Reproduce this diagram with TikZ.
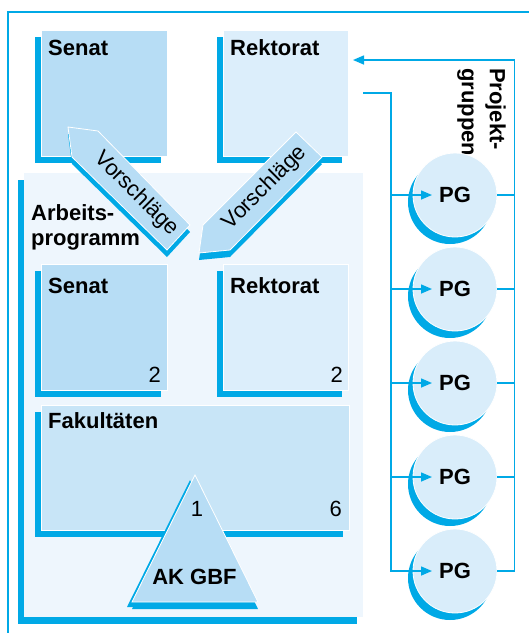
\documentclass[tikz,border=0pt]{standalone}
\usepackage{fontspec}
\setmainfont{Liberation Sans}
\usepackage{tikz}
\usetikzlibrary{positioning,arrows.meta,shadows}

\definecolor{pgcyan}{HTML}{00A9E6}
\definecolor{senatblue}{HTML}{B7DDF5}
\definecolor{rektblue}{HTML}{DCEEFB}
\definecolor{panelblue}{HTML}{EEF6FD}
\definecolor{fakblue}{HTML}{C8E5F7}
\definecolor{pgfill}{HTML}{D9EDFA}

\begin{document}
\begin{tikzpicture}[x=1pt,y=-1pt,font=\fontsize{22}{25}\selectfont]
        \tikzstyle{box}=[draw=white,line width=0.8pt,inner sep=0pt,minimum width=126pt,minimum height=126pt,general shadow={fill=pgcyan,shadow xshift=-6pt,shadow yshift=-7pt}]
        \tikzstyle{title}=[font=\fontsize{22}{25}\selectfont\bfseries,anchor=base west,inner sep=0pt]
        \tikzstyle{nr}=[anchor=base east,inner sep=0pt]
        \tikzstyle{band}=[fill=senatblue,draw=white,line width=0.8pt,general shadow={fill=pgcyan,shadow yshift=-7pt}]
        \tikzstyle{pg}=[circle,draw=white,line width=0.8pt,fill=pgfill,minimum size=84pt,inner sep=0pt,font=\fontsize{22}{25}\selectfont\bfseries,general shadow={fill=pgcyan,shadow xshift=-5pt,shadow yshift=-7pt}]
        \tikzstyle{bus}=[pgcyan,line width=1.5pt]
        \tikzstyle{feed}=[bus,-{Triangle[length=11pt,width=9pt]}]

        \useasboundingbox (0,0) rectangle (529,633);
        \draw[pgcyan,line width=1.5pt] (8,633) -- (8,12) -- (529,12);

        % oben
        \draw (104,93) node[box,fill=senatblue] (senat1) {};
        \draw (285.5,93) node[box,fill=rektblue,minimum width=125pt] (rekt1) {};

        % Arbeitsprogramm
        \draw (193.5,395) node[box,draw=none,fill=panelblue,minimum width=339pt,minimum height=444pt] (panel) {};
        \draw (104,327) node[box,fill=senatblue] (senat2) {};
        \draw (285.5,327) node[box,fill=rektblue,minimum width=125pt] (rekt2) {};
        \draw (195,467.5) node[box,fill=fakblue,minimum width=308pt,minimum height=125pt] (fak) {};
        \filldraw[band,general shadow={fill=pgcyan,shadow xshift=-5pt,shadow yshift=-5pt}] (195,475) -- (258,602) -- (132,602) -- cycle;

        % Vorschlaege
        \filldraw[band] (68,127) -- (98,131) -- (190,225) -- (167,250) -- (72,157) -- cycle;
        \filldraw[band] (199,253) -- (203,225) -- (296,132) -- (322,157) -- (230,250) -- cycle;
        \node[rotate=-45] (vs1) at (136,194) {Vorschläge};
        \node[rotate=45] (vs2) at (265,188) {Vorschläge};

        \node[title] (t1) at (48,55) {Senat};
        \node[title] (t2) at (230,55) {Rektorat};
        \node[title,anchor=north west,align=left] (t3) at (31,204) {Arbeits-\\programm};
        \node[title] (t4) at (48,293) {Senat};
        \node[title] (t5) at (230,293) {Rektorat};
        \node[title] (t6) at (48,428) {Fakultäten};
        \node[nr] (n1) at (161,382) {2};
        \node[nr] (n2) at (343,382) {2};
        \node[nr] (n3) at (342,516) {6};
        \node[nr,anchor=base] (n4) at (197,516) {1};
        \node[title,anchor=base] (ak) at (194.5,584) {AK GBF};

        % Projektgruppen
        \node[title,anchor=north west,align=left,rotate=-90,font=\fontsize{22}{28}\selectfont\bfseries] (t7) at (506,68) {Projekt-\\gruppen};
        \draw (455,195) node[pg] (pg1) {PG};
        \draw (455,289) node[pg] (pg2) {PG};
        \draw (455,383) node[pg] (pg3) {PG};
        \draw (455,477) node[pg] (pg4) {PG};
        \draw (455,571) node[pg] (pg5) {PG};

        \coordinate (out) at (363,93);
        \coordinate (ret) at (353,60);
        \draw[feed] (out) -| ([xshift=-64pt]pg5.center) -- ([xshift=-23pt]pg5.center);
        \draw[feed] ([xshift=-64pt]pg1.center) -- ([xshift=-23pt]pg1.center);
        \draw[feed] ([xshift=-64pt]pg2.center) -- ([xshift=-23pt]pg2.center);
        \draw[feed] ([xshift=-64pt]pg3.center) -- ([xshift=-23pt]pg3.center);
        \draw[feed] ([xshift=-64pt]pg4.center) -- ([xshift=-23pt]pg4.center);
        \draw[feed] (pg5.east) -- ++(17,0) |- (ret);
        \draw[bus] (pg1.east) -- ++(17,0);
        \draw[bus] (pg2.east) -- ++(17,0);
        \draw[bus] (pg3.east) -- ++(17,0);
        \draw[bus] (pg4.east) -- ++(17,0);
\end{tikzpicture}
\end{document}
